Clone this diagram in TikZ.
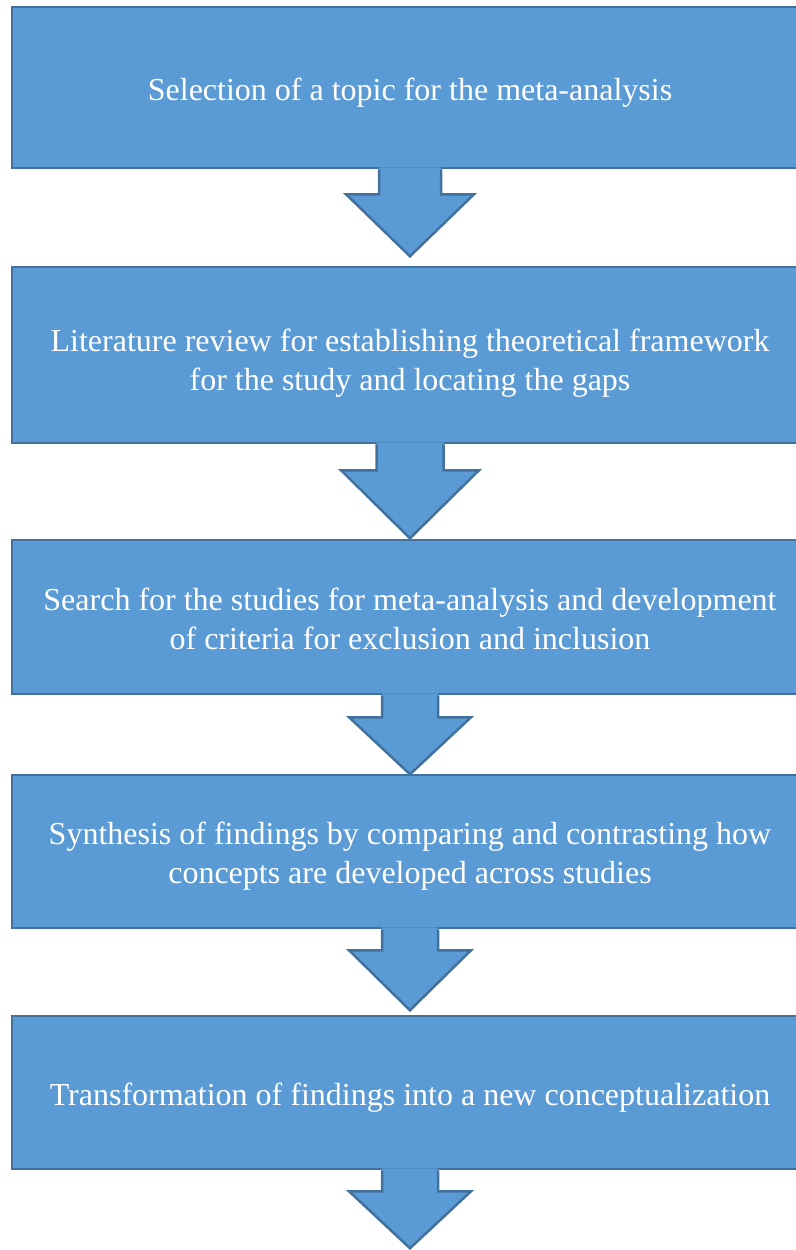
\documentclass[tikz,border=0pt]{standalone}
\usepackage{fontspec}
\setmainfont{Liberation Serif}
\usetikzlibrary{calc}
\definecolor{boxfill}{HTML}{5B9BD5}
\definecolor{boxedge}{HTML}{41719C}
\tikzset{
  stepbox/.style={draw=boxedge, fill=boxfill, line width=2.5pt, minimum width=796pt,
    text=white, inner sep=0pt,
    font=\fontsize{32}{39}\selectfont},
  arrowfill/.style={fill=boxfill},
  arrowedge/.style={draw=boxedge, line width=2.5pt, line join=miter}
}
\newcommand{\steptext}[1]{\begin{tabular}[t]{@{}c@{}}#1\end{tabular}}
% #1 from node, #2 shaft half width, #3 shoulder offset, #4 head half width, #5 tip coordinate
\newcommand{\blockarrow}[5]{%
  \fill[arrowfill] ($(#1.south)+(-#2,-2)$) -- ($(#1.south)+(-#2,#3)$) -- ($(#1.south)+(-#4,#3)$)
     -- (#5) -- ($(#1.south)+(#4,#3)$) -- ($(#1.south)+(#2,#3)$) -- ($(#1.south)+(#2,-2)$) -- cycle;
  \draw[arrowedge] ($(#1.south)+(-#2,0)$) -- ($(#1.south)+(-#2,#3)$) -- ($(#1.south)+(-#4,#3)$)
     -- (#5) -- ($(#1.south)+(#4,#3)$) -- ($(#1.south)+(#2,#3)$) -- ($(#1.south)+(#2,0)$);
}
\begin{document}
\begin{tikzpicture}[x=1pt, y=-1pt]
\useasboundingbox (0,0) rectangle (795,1250);
\node[stepbox, minimum height=161pt, text height=32pt, text depth=7pt] (b1) at (410,87.5) {\steptext{Selection of a topic for the meta-analysis}};
\node[stepbox, minimum height=176pt, text height=32pt, text depth=40pt] (b2) at (410,355) {\steptext{Literature review for establishing theoretical framework\\for the study and locating the gaps}};
\node[stepbox, minimum height=154pt, text height=27pt, text depth=40pt] (b3) at (410,617) {\steptext{Search for the studies for meta-analysis and development\\of criteria for exclusion and inclusion}};
\node[stepbox, minimum height=153pt, text height=25pt, text depth=40pt] (b4) at (410,851.5) {\steptext{Synthesis of findings by comparing and contrasting how\\concepts are developed across studies}};
\node[stepbox, minimum height=153pt, text height=32pt, text depth=7pt] (b5) at (410,1092.5) {\steptext{Transformation of findings into a new conceptualization}};
\coordinate (t1) at ($(b1.south)+(0,87)$);
\coordinate (t2) at ($(b2.south)+(0,94)$);
\coordinate (t3) at ($(b3.south)+(0,79)$);
\coordinate (t4) at ($(b4.south)+(0,81)$);
\coordinate (t5) at ($(b5.south)+(0,78)$);
\blockarrow{b1}{31}{25}{64}{t1}
\blockarrow{b2}{33.5}{26}{69}{t2}
\blockarrow{b3}{28}{22}{61}{t3}
\blockarrow{b4}{28}{21}{61}{t4}
\blockarrow{b5}{28}{21}{61}{t5}
\end{tikzpicture}
\end{document}
